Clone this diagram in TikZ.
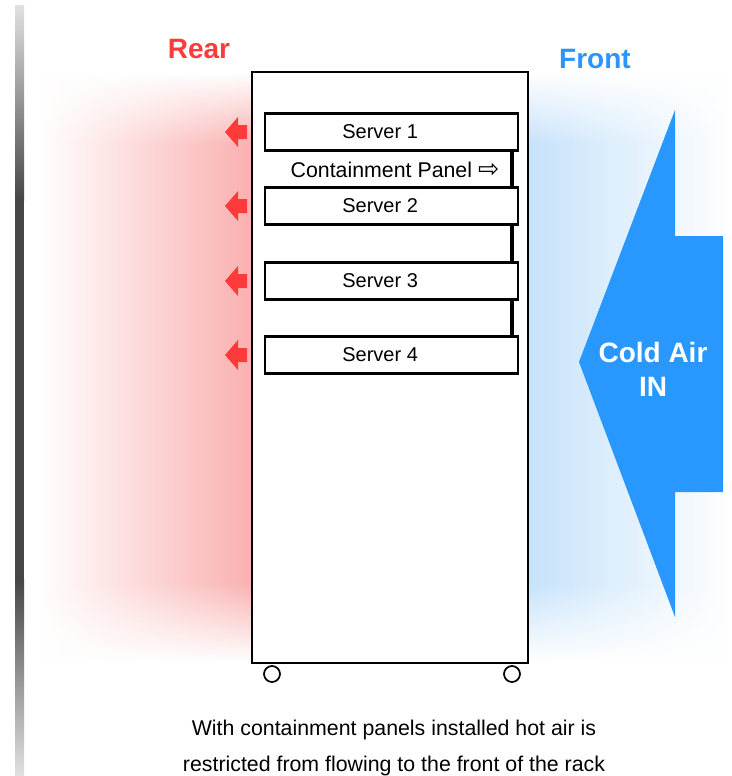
\documentclass[tikz,border=0pt]{standalone}
\usepackage{fontspec}
\setmainfont{Liberation Sans}
\newfontfamily\arrowfont{DejaVu Sans}
\usetikzlibrary{fadings}

\definecolor{reartext}{RGB}{255,58,58}
\definecolor{rearglow}{RGB}{250,176,176}
\definecolor{fronttext}{RGB}{43,148,255}
\definecolor{frontglow}{RGB}{198,226,251}
\definecolor{coldair}{RGB}{40,152,255}
\definecolor{barlight}{RGB}{225,225,225}
\definecolor{bardark}{RGB}{70,70,70}

\begin{document}
\begin{tikzpicture}[x=0.75pt, y=0.75pt,
        server/.style={draw, line width=1.8pt, fill=white,
            minimum width=189.75pt, minimum height=27.5pt, inner sep=0pt},
        label/.style={font=\fontsize{15}{17}\selectfont},
        side/.style={font=\bfseries\fontsize{21}{24}\selectfont},
        hotarrow/.style={fill=reartext},
        wheel/.style={circle, draw, line width=1.3pt, fill=white,
            minimum size=12pt, inner sep=0pt}]
    \useasboundingbox (0,0) rectangle (732,-776);

    % side bar
    \shade[top color=barlight, bottom color=bardark] (15,-5) rectangle (24,-200);
    \fill[bardark] (15,-199) rectangle (24,-580);
    \shade[top color=bardark, bottom color=barlight] (15,-579) rectangle (24,-776);

    % air glow on both sides
    \shade[left color=white, right color=rearglow] (38,-74) rectangle (252,-660);
    \shade[left color=frontglow, right color=white] (528,-74) rectangle (732,-660);
    \fill[white, path fading=south] (36,-72) rectangle (732,-145);
    \fill[white, path fading=north] (36,-582) rectangle (732,-662);

    \node[side, text=reartext] (rear) at (199,-49) {Rear};
    \node[side, text=fronttext] (front) at (595,-59) {Front};

    % rack
    \draw[line width=2.2pt, fill=white] (252,-72) rectangle (528,-663);
    \node[wheel] (wheelrear) at (272,-674) {};
    \node[wheel] (wheelfront) at (512,-674) {};
    \draw[line width=3pt] (512,-151) -- (512,-337);

    \foreach \n/\y in {1/132,2/206,3/281,4/355} {
        \node[server] (server\n) at (391.5,-\y) {};
        \node[label] at ([xshift=-8.5pt]server\n.center) {Server \n};
        \fill[hotarrow, shift={(0,-\y)}] (225,0) -- (238,15) -- (238,7)
            -- (247,7) -- (247,-7) -- (238,-7) -- (238,-15) -- cycle;
    }
    \node[font=\fontsize{16}{18}\selectfont, anchor=east] (panel) at (504,-170)
        {Containment Panel {\arrowfont\fontsize{19}{19}\selectfont ⇨}};

    % cold air
    \fill[coldair] (579,-362) -- (675,-110) -- (675,-236) -- (723,-236)
        -- (723,-492) -- (675,-492) -- (675,-617) -- cycle;
    \node[side, text=white, align=center, font=\bfseries\fontsize{21}{25.5}\selectfont]
        (coldin) at (653,-369) {Cold Air\\IN};

    \node[align=center, font=\fontsize{16}{27}\selectfont] (caption) at (394,-748)
        {With containment panels installed hot air is\\restricted from flowing to the front of the rack};
\end{tikzpicture}
\end{document}
